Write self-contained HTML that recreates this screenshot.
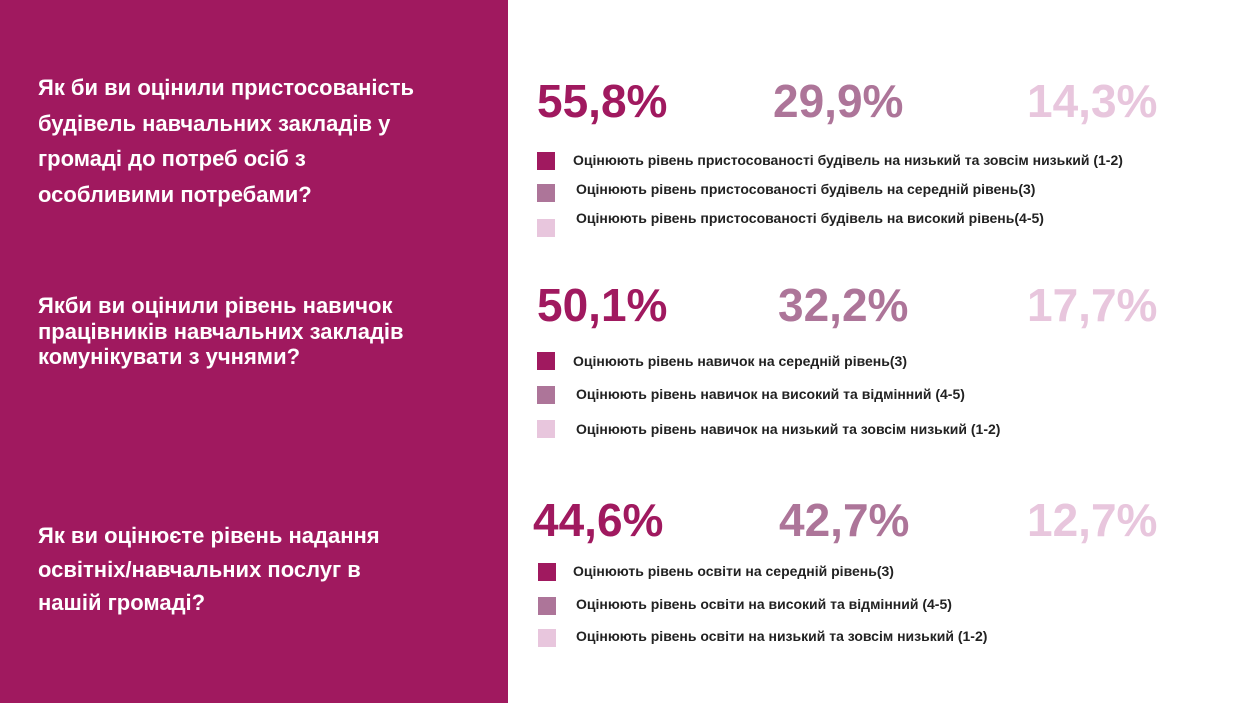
<!DOCTYPE html>
<html><head><meta charset="utf-8"><style>
body{margin:0;width:1250px;height:703px;position:relative;background:#fff;overflow:hidden;font-family:"Liberation Sans","DejaVu Sans",sans-serif}
#left{position:absolute;left:0;top:0;width:508px;height:703px;background:#a0195f}
.q{position:absolute;left:38px;color:#fff;font-weight:bold;font-size:22px;white-space:nowrap}
.pct{position:absolute;font-weight:bold;font-size:46px;line-height:46px;white-space:nowrap}
.sq{position:absolute;width:18px;height:18px}
.lt{position:absolute;font-weight:bold;font-size:14px;line-height:16px;color:#222;white-space:nowrap}
</style></head><body>
<div id="left"></div>
<div id="root"></div>
<script>
const colors=['#a0195f','#ad7599','#e8c6dd'];
const questions=[
 ['Як би ви оцінили пристосованість','будівель навчальних закладів у','громаді до потреб осіб з','особливими потребами?'],
 ['Якби ви оцінили рівень навичок','працівників навчальних закладів','комунікувати з учнями?'],
 ['Як ви оцінюєте рівень надання','освітніх/навчальних послуг в','нашій громаді?']];
const values=[[55.8,29.9,14.3],[50.1,32.2,17.7],[44.6,42.7,12.7]];
const legends=[
 ['Оцінюють рівень пристосованості будівель на низький та зовсім низький (1-2)','Оцінюють рівень пристосованості будівель  на середній рівень(3)','Оцінюють рівень пристосованості будівель  на високий рівень(4-5)'],
 ['Оцінюють рівень навичок на середній рівень(3)','Оцінюють рівень навичок на високий та відмінний (4-5)','Оцінюють рівень навичок на низький та зовсім низький (1-2)'],
 ['Оцінюють рівень освіти на середній рівень(3)','Оцінюють рівень освіти на високий та відмінний (4-5)','Оцінюють рівень освіти на низький та зовсім низький (1-2)']];
// layout
const qTop=[70,293,519], qLH=[35.5,25.5,33.5];
const pctY=[101,305,520], pctX=[[537,773,1027],[537,778,1027],[533,779,1027]];
const sqY=[[152,184,219],[352,386,420],[563,597,629]];
const txY=[[160,189,218],[361,394,429],[571,604,636]];
const root=document.getElementById('root');
function fmt(v){return v.toFixed(1).replace('.',',')+'%';}
questions.forEach((lines,i)=>{
 lines.forEach((t,j)=>{
  const d=document.createElement('div');d.className='q';
  
  
  d.style.top=(qTop[i]+j*qLH[i])+'px';d.style.lineHeight=qLH[i]+'px';d.textContent=t;root.appendChild(d);
 });
 values[i].forEach((v,k)=>{
  const p=document.createElement('div');p.className='pct';
  
  
  p.style.left=pctX[i][k]+'px';p.style.top=(pctY[i]-23)+'px';p.style.color=colors[k];p.textContent=fmt(v);root.appendChild(p);
  const s=document.createElement('div');s.className='sq';
  
  
  s.style.left=(i==2?538:537)+'px';s.style.top=sqY[i][k]+'px';s.style.background=colors[k];root.appendChild(s);
  const l=document.createElement('div');l.className='lt';
  
  
  l.style.left=(k==0?573:576)+'px';l.style.top=(txY[i][k]-8)+'px';l.textContent=legends[i][k];root.appendChild(l);
 });
});
</script>
</body></html>
